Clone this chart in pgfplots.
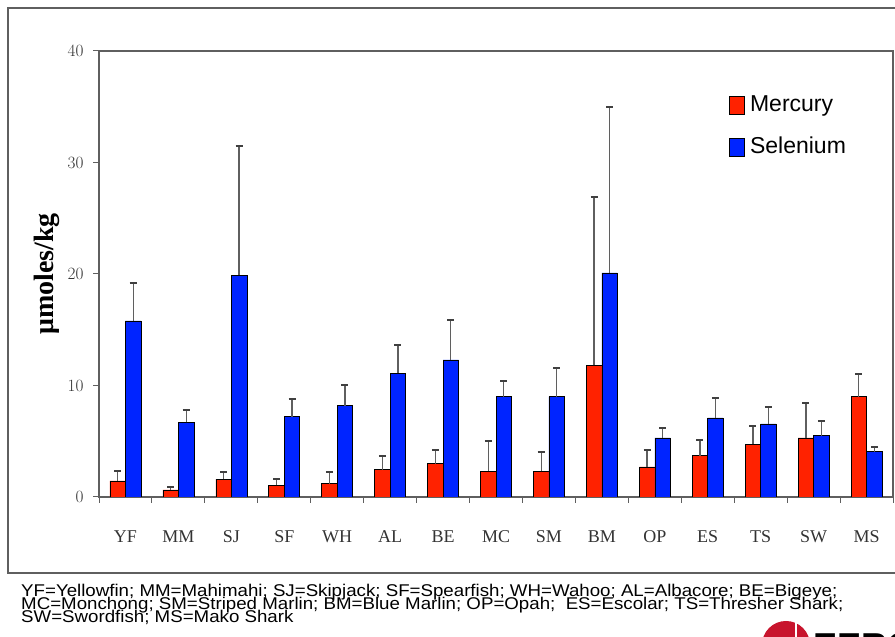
\documentclass[border=0pt]{standalone}
\usepackage{fontspec}
\setmainfont{Liberation Serif}
\newfontfamily\arial{Liberation Sans}
\newfontfamily\arialn[FakeStretch=1.1]{Liberation Sans}
\usepackage{pgfplots}
\pgfplotsset{compat=1.18}
\definecolor{hg}{RGB}{255,34,0}
\definecolor{se}{RGB}{0,36,255}
\definecolor{ax}{RGB}{95,95,95}
\definecolor{logored}{RGB}{200,20,45}
\begin{document}
\begin{tikzpicture}[x=1bp,y=1bp]
\useasboundingbox (0,0) rectangle (895,637);
\begin{scope}
\clip (0,0) rectangle (895,637);
\draw[line width=2bp, color=ax] (8,64) rectangle (915,629);
\fill[logored] (786,-8) circle (24);
\draw[white, line width=1.5bp] (796,-32) -- (796,16);
\node[anchor=base west, inner sep=0pt, font=\arial\bfseries\fontsize{36bp}{40bp}\selectfont] at (813,-22) {EERC};
\node[anchor=base west, inner sep=0pt, font=\arialn\fontsize{17bp}{13.3bp}\selectfont] at (21,14.3)
  {\vbox{\baselineskip=13.3bp \lineskiplimit=-40bp \lineskip=0bp
   \hbox{YF=Yellowfin; MM=Mahimahi; SJ=Skipjack; SF=Spearfish; WH=Wahoo; AL=Albacore; BE=Bigeye;}
   \hbox{MC=Monchong; SM=Striped Marlin; BM=Blue Marlin; OP=Opah;\ \ ES=Escolar; TS=Thresher Shark;}
   \hbox{SW=Swordfish; MS=Mako Shark}}};
\end{scope}
\begin{axis}[
  at={(99bp,140bp)}, anchor=south west,
  scale only axis, width=794bp, height=446bp,
  xmin=-0.5, xmax=14.5, ymin=0, ymax=40,
  ytick={0,10,20,30,40},
  xtick={-0.5,0.5,...,14.5},
  xticklabels={YF,MM,SJ,SF,WH,AL,BE,MC,SM,BM,OP,ES,TS,SW,MS},
  x tick label as interval,
  tick align=outside, tick pos=left,
  major tick length=6bp,
  tick style={color=ax, line width=1bp},
  axis line style={color=ax, line width=1.2bp},
  tick label style={font=\fontsize{18bp}{20bp}\selectfont, text=black!80},
  xticklabel style={yshift=-24bp},
  yticklabel style={xshift=-6bp},
  ylabel={\textbf{μmoles/kg}},
  ylabel style={font=\fontsize{28bp}{30bp}\selectfont, text=black},
  ylabel shift=1bp,
  ybar, bar width=15.5bp,
  legend cell align=left,
  legend image code/.code={\draw[#1, draw=black, line width=0.6bp] (0bp,-9bp) rectangle (15bp,9bp);},
  legend style={at={(0.79,0.91)}, anchor=north west, draw=none, fill=none,
    font=\arial\fontsize{23bp}{26bp}\selectfont,
    row sep=18bp, column sep=4bp,
    nodes={inner sep=1bp, text height=17bp, text depth=5bp}},
  error bars/error bar style={line width=1.3bp, draw=ax},
  error bars/error mark options={rotate=90, line width=2bp, mark size=3.5bp, draw=black!75},
]
\addplot[fill=hg, draw=black, line width=0.6bp, bar shift=-7.75bp,
  error bars/.cd, y dir=plus, y explicit]
  coordinates {
  (0,1.45) +- (0,0.85)
  (1,0.63) +- (0,0.3)
  (2,1.6) +- (0,0.6)
  (3,1.05) +- (0,0.55)
  (4,1.2) +- (0,1.0)
  (5,2.45) +- (0,1.25)
  (6,3.0) +- (0,1.2)
  (7,2.33) +- (0,2.7)
  (8,2.33) +- (0,1.75)
  (9,11.8) +- (0,15.1)
  (10,2.7) +- (0,1.5)
  (11,3.7) +- (0,1.4)
  (12,4.75) +- (0,1.65)
  (13,5.3) +- (0,3.1)
  (14,9.0) +- (0,2.0)
  };
\addlegendentry{Mercury}
\addplot[fill=se, draw=black, line width=0.6bp, bar shift=7.75bp,
  error bars/.cd, y dir=plus, y explicit]
  coordinates {
  (0,15.8) +- (0,3.4)
  (1,6.7) +- (0,1.1)
  (2,19.9) +- (0,11.6)
  (3,7.2) +- (0,1.6)
  (4,8.2) +- (0,1.8)
  (5,11.1) +- (0,2.5)
  (6,12.3) +- (0,3.6)
  (7,9.0) +- (0,1.4)
  (8,9.0) +- (0,2.6)
  (9,20.1) +- (0,14.85)
  (10,5.3) +- (0,0.85)
  (11,7.1) +- (0,1.75)
  (12,6.55) +- (0,1.55)
  (13,5.5) +- (0,1.35)
  (14,4.06) +- (0,0.45)
  };
\addlegendentry{Selenium}
\end{axis}
\end{tikzpicture}
\end{document}
